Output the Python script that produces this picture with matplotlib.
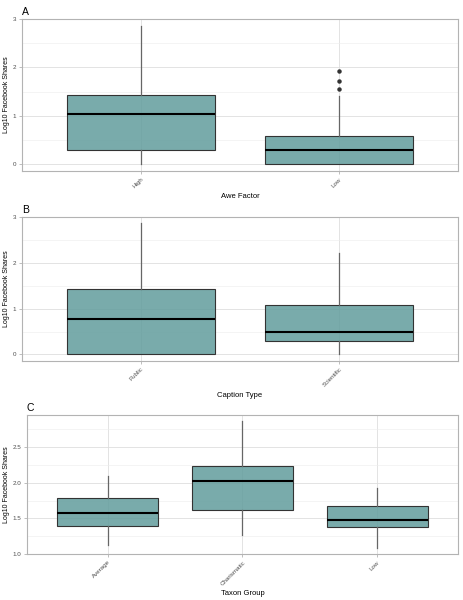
import matplotlib.pyplot as plt
from matplotlib.ticker import MultipleLocator

plt.rcParams['font.family'] = ['Liberation Sans', 'DejaVu Sans']

# box statistics (log10 facebook shares)
awe_cats = ["High", "Low"]
awe_q1 = [0.29, 0.0]
awe_med = [1.035, 0.30]
awe_q3 = [1.43, 0.59]
awe_wlo = [0.0, 0.0]
awe_whi = [2.86, 1.41]
awe_out = [[], [1.55, 1.72, 1.93]]

cap_cats = ["Public", "Scientific"]
cap_q1 = [0.0, 0.30]
cap_med = [0.77, 0.48]
cap_q3 = [1.42, 1.07]
cap_wlo = [0.0, 0.0]
cap_whi = [2.86, 2.21]
cap_out = [[], []]

tax_cats = ["Average", "Charismatic", "Low"]
tax_q1 = [1.394, 1.62, 1.376]
tax_med = [1.578, 2.03, 1.48]
tax_q3 = [1.78, 2.23, 1.68]
tax_wlo = [1.12, 1.26, 1.085]
tax_whi = [2.094, 2.87, 1.92]
tax_out = [[], [], []]

W, H = 464, 600
fig = plt.figure(figsize=(W / 100, H / 100), dpi=100)

fill = (98 / 255, 157 / 255, 157 / 255, 0.85)
border = "#B3B3B3"


def panel(rect, letter, xlabel, cats, q1, med, q3, wlo, whi, out, ylim, major, minor):
    left, top, right, bottom = rect
    ax = fig.add_axes([left / W, 1 - bottom / H, (right - left) / W, (bottom - top) / H])
    stats = []
    for i in range(len(cats)):
        stats.append(dict(med=med[i], q1=q1[i], q3=q3[i], whislo=wlo[i], whishi=whi[i], fliers=out[i]))
    pos = list(range(1, len(cats) + 1))
    ax.bxp(stats, positions=pos, widths=0.75, patch_artist=True, showcaps=False,
           boxprops=dict(facecolor=fill, edgecolor="#333333", linewidth=0.8),
           medianprops=dict(color="black", linewidth=1.5),
           whiskerprops=dict(color="#666666", linewidth=0.9),
           flierprops=dict(marker="o", markerfacecolor="#333333", markeredgecolor="#333333", markersize=2.2),
           zorder=3)
    ax.set_xlim(0.4, len(cats) + 0.6)
    ax.set_ylim(*ylim)
    ax.yaxis.set_major_locator(MultipleLocator(major))
    ax.yaxis.set_minor_locator(MultipleLocator(minor))
    ax.set_xticks(pos)
    ax.set_xticklabels(cats, rotation=45, ha="right", rotation_mode="anchor")
    ax.grid(True, which="major", color="#DEDEDE", linewidth=0.6, zorder=0)
    ax.grid(True, which="minor", axis="y", color="#EDEDED", linewidth=0.4, zorder=0)
    ax.set_axisbelow(True)
    for s in ax.spines.values():
        s.set_color(border)
        s.set_linewidth(0.8)
    ax.tick_params(which="major", length=2.5, width=0.6, color=border, labelsize=4.5, labelcolor="#4D4D4D", pad=1.5)
    ax.tick_params(which="minor", length=0)
    ax.set_xlabel(xlabel, fontsize=5.5, labelpad=3)
    ax.set_ylabel("Log10 Facebook Shares", fontsize=5)
    ax.yaxis.set_label_coords((10 - left) / (right - left), 0.5)
    ax.set_title(letter, loc="left", fontsize=7.5, x=0.0, pad=3)
    return ax


panel((22, 19, 458, 171), "A", "Awe Factor", awe_cats, awe_q1, awe_med, awe_q3,
      awe_wlo, awe_whi, awe_out, (-0.143, 3.0), 1, 0.5)
panel((22, 217, 458, 361), "B", "Caption Type", cap_cats, cap_q1, cap_med, cap_q3,
      cap_wlo, cap_whi, cap_out, (-0.143, 3.0), 1, 0.5)
panel((27, 415, 458, 554), "C", "Taxon Group", tax_cats, tax_q1, tax_med, tax_q3,
      tax_wlo, tax_whi, tax_out, (1.0, 2.95), 0.5, 0.25)

fig.savefig("out.png", dpi=100)
